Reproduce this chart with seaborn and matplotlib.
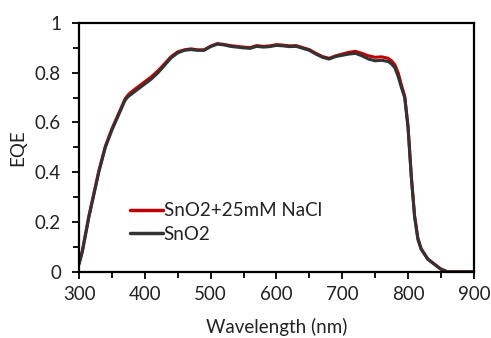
import matplotlib
matplotlib.use("Agg")
import matplotlib.pyplot as plt
import seaborn as sns
import pandas as pd
from matplotlib.ticker import MultipleLocator, FuncFormatter

wavelength = [300, 305, 310, 315, 320, 330, 340, 350, 360, 365, 370, 375, 380, 390,
              400, 410, 420, 430, 440, 450, 460, 470, 480, 490, 500, 510, 520, 530,
              540, 550, 560, 570, 580, 590, 600, 610, 620, 630, 640, 650, 660, 670,
              680, 690, 700, 710, 720, 730, 740, 750, 760, 770, 775, 780, 785, 790,
              795, 800, 805, 810, 815, 820, 830, 840, 850, 860, 870, 880, 890, 900]

eqe_sno2 = [0.03, 0.08, 0.15, 0.22, 0.28, 0.40, 0.50, 0.57, 0.63, 0.66, 0.69, 0.705,
            0.715, 0.735, 0.755, 0.775, 0.80, 0.83, 0.86, 0.88, 0.89, 0.893, 0.89,
            0.89, 0.905, 0.915, 0.912, 0.906, 0.903, 0.90, 0.898, 0.906, 0.903, 0.905,
            0.91, 0.908, 0.905, 0.906, 0.898, 0.89, 0.875, 0.862, 0.855, 0.865, 0.87,
            0.875, 0.878, 0.868, 0.855, 0.848, 0.85, 0.845, 0.835, 0.82, 0.785, 0.74,
            0.70, 0.58, 0.38, 0.22, 0.13, 0.09, 0.05, 0.03, 0.01, 0.0, 0.0, 0.0, 0.0, 0.0]

eqe_nacl = [0.035, 0.085, 0.155, 0.225, 0.285, 0.405, 0.505, 0.575, 0.635, 0.665, 0.695,
            0.712, 0.724, 0.744, 0.764, 0.784, 0.808, 0.836, 0.865, 0.884, 0.892, 0.896,
            0.892, 0.892, 0.907, 0.917, 0.914, 0.909, 0.906, 0.903, 0.901, 0.909, 0.906,
            0.908, 0.913, 0.911, 0.908, 0.909, 0.901, 0.893, 0.878, 0.865, 0.858, 0.868,
            0.875, 0.882, 0.886, 0.878, 0.868, 0.862, 0.864, 0.858, 0.848, 0.832, 0.80,
            0.75, 0.705, 0.585, 0.385, 0.225, 0.135, 0.093, 0.052, 0.031, 0.011, 0.0,
            0.0, 0.0, 0.0, 0.0]

labels = ["SnO2+25mM NaCl", "SnO2"]
colors = ["#c00000", "#333333"]

df = pd.concat([
    pd.DataFrame({"Wavelength": wavelength, "EQE": eqe_nacl, "Sample": labels[0]}),
    pd.DataFrame({"Wavelength": wavelength, "EQE": eqe_sno2, "Sample": labels[1]}),
])

sns.set_style("white")
plt.rcParams["font.family"] = ["Lato", "DejaVu Sans"]

FS = 13.5
fig = plt.figure(figsize=(4.91, 3.38), dpi=100)
ax = fig.add_axes([0.161, 0.196, 0.804, 0.736])

sns.lineplot(data=df, x="Wavelength", y="EQE", hue="Sample", hue_order=labels,
             palette=colors, linewidth=2.2, ax=ax, sort=False)

ax.set_xlim(300, 900)
ax.set_ylim(0, 1)
ax.xaxis.set_major_locator(MultipleLocator(100))
ax.xaxis.set_minor_locator(MultipleLocator(50))
ax.yaxis.set_major_locator(MultipleLocator(0.2))
ax.yaxis.set_minor_locator(MultipleLocator(0.1))
ax.yaxis.set_major_formatter(FuncFormatter(lambda v, p: "0" if abs(v) < 1e-9 else ("1" if abs(v - 1) < 1e-9 else f"{v:.1f}")))

for s in ax.spines.values():
    s.set_linewidth(1.6)
    s.set_color("black")
    s.set_visible(True)

ax.tick_params(which="major", direction="out", length=5, width=1.3, colors="black",
               labelsize=FS, labelcolor="#222222", left=True, bottom=True)
ax.tick_params(axis="y", which="major", pad=8)
ax.tick_params(axis="x", which="major", pad=5)
ax.tick_params(which="minor", direction="out", length=4, width=1.3, colors="black",
               left=True, bottom=True)

ax.set_xlabel("Wavelength (nm)", fontsize=FS, color="#222222", labelpad=11)
ax.set_ylabel("EQE", fontsize=FS, color="#222222", labelpad=6)

leg = ax.legend(loc="upper left", bbox_to_anchor=(0.11, 0.31), frameon=False,
                fontsize=FS, handlelength=1.75, handletextpad=0.05, labelspacing=0.35,
                borderaxespad=0)
for t in leg.get_texts():
    t.set_color("#222222")
for h in leg.get_lines():
    h.set_linewidth(2.5)

fig.savefig("out.png", dpi=100)
